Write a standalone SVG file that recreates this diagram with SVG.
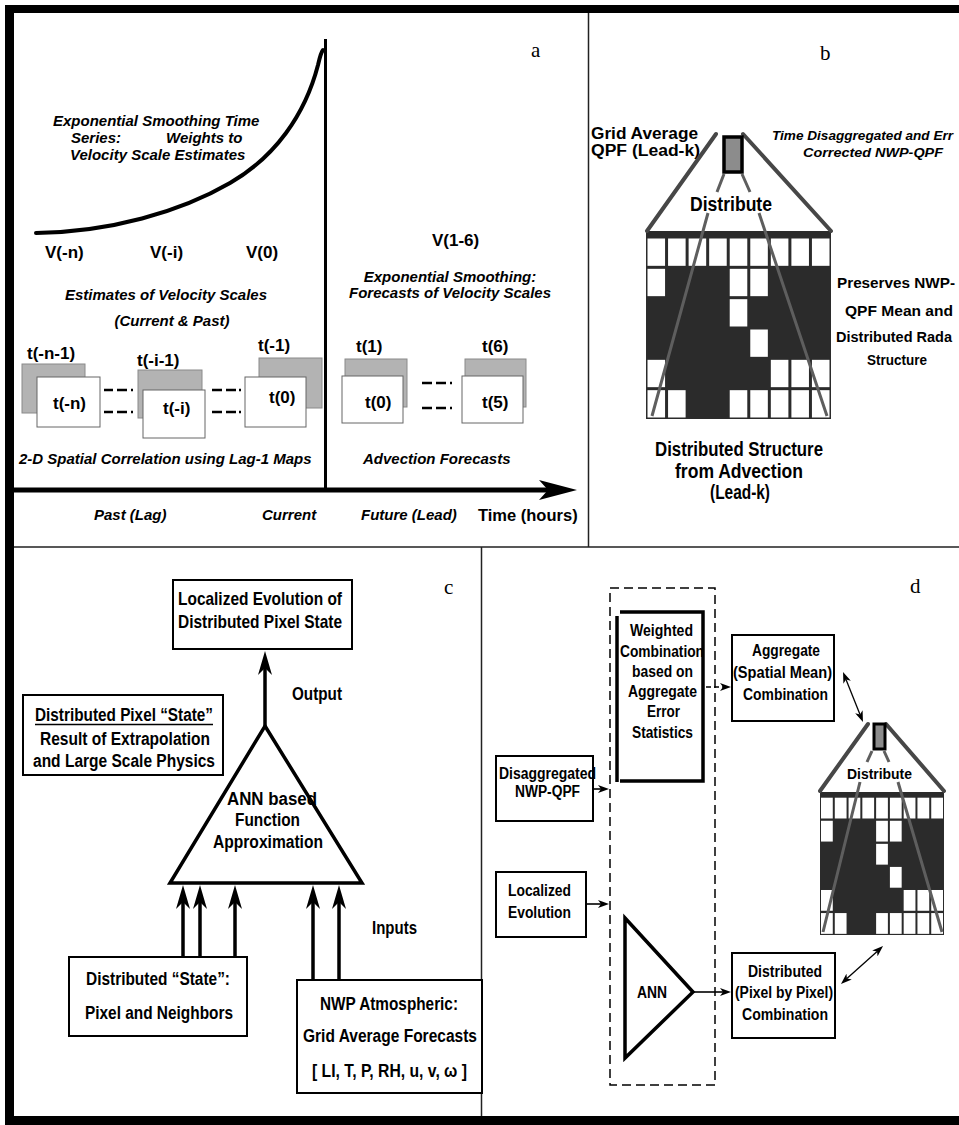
<svg xmlns="http://www.w3.org/2000/svg" width="959" height="1125" viewBox="0 0 959 1125">
<style>
text{font-family:"Liberation Sans",Arial,sans-serif;font-weight:bold;fill:#000}
.it{font-style:italic}
.mid{text-anchor:middle}
.lbl{font-family:"Liberation Serif","Times New Roman",serif;font-weight:normal;font-size:21px}
.a15{font-size:15px}
.t17{font-size:17px}
.n20{font-size:20px}
.n19{font-size:19px}
.n18{font-size:18px}
.n16{font-size:16px}
.n15{font-size:15px}
.n14{font-size:14.5px}
.box{fill:#fff;stroke:#000;stroke-width:2}
.sep{stroke:#222;stroke-width:1.5;fill:none}
.mapg{fill:#b3b3b3;stroke:#8a8a8a;stroke-width:1}
.mapw{fill:#fff;stroke:#666;stroke-width:1}
.dash{stroke:#000;stroke-width:2.5;fill:none}
.pyr{stroke:#474747;stroke-width:4;fill:none;stroke-linecap:round}
.pyri{stroke:#5e5e5e;stroke-width:3;fill:none}
.arr{stroke:#000;stroke-width:3.5;fill:none;marker-end:url(#ahc)}
.arrd{stroke:#000;stroke-width:1.6;fill:none;marker-end:url(#ahd)}
.dbl{stroke:#000;stroke-width:1.3;fill:none;marker-start:url(#ahd2);marker-end:url(#ahd2)}
</style>
<defs>
<marker id="ahc" markerUnits="userSpaceOnUse" markerWidth="24" markerHeight="14" viewBox="0 0 24 14" refX="7" refY="7" orient="auto"><path d="M0,0 L24,7 L0,14 L7,7 z" fill="#000"/></marker>
<marker id="ahd" markerUnits="userSpaceOnUse" markerWidth="11" markerHeight="8" viewBox="0 0 11 8" refX="3" refY="4" orient="auto"><path d="M0,0 L11,4 L0,8 L3,4 z" fill="#000"/></marker>
<marker id="ahd2" markerUnits="userSpaceOnUse" markerWidth="11" markerHeight="8" viewBox="0 0 11 8" refX="3" refY="4" orient="auto-start-reverse"><path d="M0,0 L11,4 L0,8 L3,4 z" fill="#000"/></marker>
<g id="gridb">
<rect x="0" y="0" width="185" height="188" fill="#2b2b2b"/>
<g fill="#fff">
<rect x="1.5" y="7.5" width="17.56" height="27.33"/>
<rect x="22.06" y="7.5" width="17.56" height="27.33"/>
<rect x="42.61" y="7.5" width="17.56" height="27.33"/>
<rect x="63.17" y="7.5" width="17.56" height="27.33"/>
<rect x="83.72" y="7.5" width="17.56" height="27.33"/>
<rect x="104.28" y="7.5" width="17.56" height="27.33"/>
<rect x="124.83" y="7.5" width="17.56" height="27.33"/>
<rect x="145.39" y="7.5" width="17.56" height="27.33"/>
<rect x="165.94" y="7.5" width="17.56" height="27.33"/>
<rect x="1.5" y="37.83" width="17.56" height="27.33"/>
<rect x="83.72" y="37.83" width="17.56" height="27.33"/>
<rect x="104.28" y="37.83" width="17.56" height="27.33"/>
<rect x="83.72" y="68.17" width="17.56" height="27.33"/>
<rect x="104.28" y="98.5" width="17.56" height="27.33"/>
<rect x="1.5" y="128.83" width="17.56" height="27.33"/>
<rect x="124.83" y="128.83" width="17.56" height="27.33"/>
<rect x="145.39" y="128.83" width="17.56" height="27.33"/>
<rect x="165.94" y="128.83" width="17.56" height="27.33"/>
<rect x="1.5" y="159.17" width="17.56" height="27.33"/>
<rect x="22.06" y="159.17" width="17.56" height="27.33"/>
<rect x="83.72" y="159.17" width="17.56" height="27.33"/>
<rect x="104.28" y="159.17" width="17.56" height="27.33"/>
<rect x="124.83" y="159.17" width="17.56" height="27.33"/>
<rect x="145.39" y="159.17" width="17.56" height="27.33"/>
<rect x="165.94" y="159.17" width="17.56" height="27.33"/>
</g>
</g>
</defs>
<rect width="959" height="1125" fill="#fff"/>
<g id="frame">
<rect x="5" y="5" width="954" height="8" fill="#000"/>
<rect x="5" y="5" width="9" height="1120" fill="#000"/>
<rect x="5" y="1116" width="954" height="9" fill="#000"/>
<path class="sep" d="M588.5,13 V547 M14,547 H959 M481.5,547 V1116"/>
</g>

<g id="panel-a">
<text class="lbl" x="531" y="57">a</text>
<path d="M325.5,39 V492" stroke="#000" stroke-width="3" fill="none"/>
<path d="M36,233 C110,232 180,212 230,183 C275,157 305,115 318,65 Q321,52 323,50" stroke="#000" stroke-width="4" fill="none" stroke-linecap="round"/>
<text class="it a15" x="53" y="126">Exponential Smoothing Time</text>
<text class="it a15" x="71" y="143">Series:</text>
<text class="it a15" x="166" y="143">Weights to</text>
<text class="it a15" x="70" y="160">Velocity Scale Estimates</text>
<text class="t17" x="45" y="258">V(-n)</text>
<text class="t17" x="150" y="258">V(-i)</text>
<text class="t17" x="246" y="258">V(0)</text>
<text class="t17" x="432" y="246">V(1-6)</text>
<text class="it a15 mid" x="450" y="282">Exponential Smoothing:</text>
<text class="it a15 mid" x="450" y="298">Forecasts of Velocity Scales</text>
<text class="it a15 mid" x="166" y="300">Estimates of Velocity Scales</text>
<text class="it a15 mid" x="172" y="326">(Current &amp; Past)</text>
<g id="map-n">
<rect class="mapg" x="22" y="364" width="63" height="49"/>
<rect class="mapw" x="37" y="377" width="63" height="50"/>
<text class="t17" x="27" y="359">t(-n-1)</text>
<text class="t17" x="53" y="409">t(-n)</text>
</g>
<g id="map-i">
<rect class="mapg" x="138" y="370" width="64" height="48"/>
<rect class="mapw" x="143" y="390" width="62" height="48"/>
<text class="t17" x="137" y="366">t(-i-1)</text>
<text class="t17" x="163" y="414">t(-i)</text>
</g>
<g id="map-0">
<rect class="mapg" x="259" y="358" width="63" height="50"/>
<rect class="mapw" x="245" y="377" width="61" height="50"/>
<text class="t17" x="258" y="351">t(-1)</text>
<text class="t17" x="269" y="403">t(0)</text>
</g>
<g id="map-1">
<rect class="mapg" x="345" y="359" width="62" height="48"/>
<rect class="mapw" x="342" y="376" width="61" height="47"/>
<text class="t17" x="356" y="352">t(1)</text>
<text class="t17" x="365" y="408">t(0)</text>
</g>
<g id="map-6">
<rect class="mapg" x="465" y="359" width="61" height="48"/>
<rect class="mapw" x="462" y="376" width="61" height="47"/>
<text class="t17" x="482" y="352">t(6)</text>
<text class="t17" x="482" y="408">t(5)</text>
</g>
<path class="dash" d="M104,390 h9 M117,390 h10 M131,390 h2 M104,412 h9 M117,412 h10 M131,412 h2 M212,390 h10 M226,390 h10 M239,390 h2 M212,412 h10 M226,412 h10 M239,412 h2 M422,383 h10 M436,383 h10 M450,383 h2 M422,408 h10 M436,408 h10 M450,408 h2"/>
<text class="it a15" x="19" y="464">2-D Spatial Correlation using Lag-1 Maps</text>
<text class="it a15" x="363" y="464">Advection Forecasts</text>
<path d="M14,490 H550" stroke="#000" stroke-width="5"/>
<path d="M577,490 L539,480 L548,490 L539,500 z" fill="#000"/>
<text class="it a15" x="94" y="520">Past (Lag)</text>
<text class="it a15" x="262" y="520">Current</text>
<text class="it a15" x="361" y="520">Future (Lead)</text>
<text x="478" y="521" font-size="16.5">Time (hours)</text>
</g>

<g id="panel-b">
<text class="lbl" x="820" y="60">b</text>
<text class="n16" x="591" y="139" textLength="107" lengthAdjust="spacingAndGlyphs">Grid Average</text>
<text class="n16" x="591" y="156" textLength="109" lengthAdjust="spacingAndGlyphs">QPF (Lead-k)</text>
<text class="it" x="772" y="140" font-size="13.6">Time Disaggregated and Err</text>
<text class="it" x="803" y="157" font-size="13.6" textLength="140" lengthAdjust="spacingAndGlyphs">Corrected NWP-QPF</text>
<use href="#gridb" transform="translate(646,231)"/>
<path class="pyr" d="M716,134 L647,231 M743,134 L831,231"/>
<rect x="724" y="137" width="18" height="35" fill="#8c8c8c" stroke="#000" stroke-width="3.5"/>
<path class="pyri" d="M724,174 L717,192 M742,174 L750,192 M708,213 L652,416 M759,213 L827,416"/>
<text class="n20" x="690" y="211" textLength="82" lengthAdjust="spacingAndGlyphs">Distribute</text>
<text class="n14" x="837" y="288" textLength="118" lengthAdjust="spacingAndGlyphs">Preserves NWP-</text>
<text class="n14" x="845" y="316" textLength="108" lengthAdjust="spacingAndGlyphs">QPF Mean and</text>
<text class="n14" x="836" y="342">Distributed Rada</text>
<text class="n14" x="867" y="365" textLength="60" lengthAdjust="spacingAndGlyphs">Structure</text>
<text class="n20" x="655" y="456" textLength="168" lengthAdjust="spacingAndGlyphs">Distributed Structure</text>
<text class="n20" x="675" y="478" textLength="128" lengthAdjust="spacingAndGlyphs">from Advection</text>
<text class="n20" x="710" y="499" textLength="60" lengthAdjust="spacingAndGlyphs">(Lead-k)</text>
</g>

<g id="panel-c">
<text class="lbl" x="444" y="594">c</text>
<g id="c-output">
<rect class="box" x="173" y="580" width="179" height="69"/>
<text class="n19" x="178" y="605" textLength="164" lengthAdjust="spacingAndGlyphs">Localized Evolution of</text>
<text class="n19" x="178" y="628" textLength="164" lengthAdjust="spacingAndGlyphs">Distributed Pixel State</text>
</g>
<text class="n18" x="292" y="700" textLength="50" lengthAdjust="spacingAndGlyphs">Output</text>
<g id="c-state-note">
<rect class="box" x="23" y="695" width="200" height="80"/>
<text class="n18" x="35" y="721" textLength="178" lengthAdjust="spacingAndGlyphs">Distributed Pixel “State”</text>
<path d="M35,724.5 H213" stroke="#000" stroke-width="1.3"/>
<text class="n18" x="40" y="745" textLength="170" lengthAdjust="spacingAndGlyphs">Result of Extrapolation</text>
<text class="n18" x="33" y="767" textLength="182" lengthAdjust="spacingAndGlyphs">and Large Scale Physics</text>
</g>
<g id="c-ann">
<path d="M265,726 L362,883 L170,883 z" fill="none" stroke="#000" stroke-width="3.5" stroke-linejoin="miter"/>
<text class="n18" x="227" y="805" textLength="90" lengthAdjust="spacingAndGlyphs">ANN based</text>
<text class="n18" x="235" y="826" textLength="65" lengthAdjust="spacingAndGlyphs">Function</text>
<text class="n18" x="213" y="848" textLength="110" lengthAdjust="spacingAndGlyphs">Approximation</text>
</g>
<text class="n18" x="372" y="934" textLength="45" lengthAdjust="spacingAndGlyphs">Inputs</text>
<g id="c-state-in">
<rect class="box" x="69" y="957" width="178" height="79"/>
<text class="n18" x="86" y="985" textLength="144" lengthAdjust="spacingAndGlyphs">Distributed “State”:</text>
<text class="n18" x="85" y="1019" textLength="148" lengthAdjust="spacingAndGlyphs">Pixel and Neighbors</text>
</g>
<g id="c-nwp-in">
<rect class="box" x="297" y="980" width="185" height="113"/>
<text class="n18" x="320" y="1010" textLength="138" lengthAdjust="spacingAndGlyphs">NWP Atmospheric:</text>
<text class="n18" x="303" y="1042" textLength="174" lengthAdjust="spacingAndGlyphs">Grid Average Forecasts</text>
<text class="n18" x="312" y="1077" textLength="155" lengthAdjust="spacingAndGlyphs">[ LI, T, P, RH, u, v, ω ]</text>
</g>
</g>

<g id="panel-d">
<text class="lbl" x="910" y="593">d</text>
<rect x="610" y="588" width="105" height="497" fill="none" stroke="#000" stroke-width="1.5" stroke-dasharray="9 5"/>
<g id="d-weighted">
<path d="M617,616 V782 M620,612 H703 V781 H620" fill="none" stroke="#000" stroke-width="3.5"/>
<text class="n16" x="630" y="636" textLength="63" lengthAdjust="spacingAndGlyphs">Weighted</text>
<text class="n16" x="620" y="657" textLength="84" lengthAdjust="spacingAndGlyphs">Combination</text>
<text class="n16" x="632" y="677" textLength="61" lengthAdjust="spacingAndGlyphs">based on</text>
<text class="n16" x="628" y="697" textLength="69" lengthAdjust="spacingAndGlyphs">Aggregate</text>
<text class="n16" x="647" y="717" textLength="33" lengthAdjust="spacingAndGlyphs">Error</text>
<text class="n16" x="632" y="738" textLength="61" lengthAdjust="spacingAndGlyphs">Statistics</text>
</g>
<g id="d-aggregate">
<rect class="box" x="732" y="635" width="102" height="86"/>
<text class="n16" x="752" y="656" textLength="68" lengthAdjust="spacingAndGlyphs">Aggregate</text>
<text class="n16" x="733" y="678" textLength="99" lengthAdjust="spacingAndGlyphs">(Spatial Mean)</text>
<text class="n16" x="743" y="700" textLength="85" lengthAdjust="spacingAndGlyphs">Combination</text>
</g>
<g id="d-disagg">
<rect class="box" x="496" y="756" width="97" height="65"/>
<text class="n16" x="499" y="779" textLength="97" lengthAdjust="spacingAndGlyphs">Disaggregated</text>
<text class="n16" x="515" y="797" textLength="65" lengthAdjust="spacingAndGlyphs">NWP-QPF</text>
</g>
<g id="d-localized">
<rect class="box" x="496" y="872" width="90" height="65"/>
<text class="n16" x="508" y="896" textLength="63" lengthAdjust="spacingAndGlyphs">Localized</text>
<text class="n16" x="508" y="918" textLength="63" lengthAdjust="spacingAndGlyphs">Evolution</text>
</g>
<g id="d-ann">
<path d="M625,918 L693,992 L625,1058 z" fill="none" stroke="#000" stroke-width="3.5"/>
<text class="n16" x="637" y="998" textLength="30" lengthAdjust="spacingAndGlyphs">ANN</text>
</g>
<g id="d-distributed">
<rect class="box" x="732" y="953" width="103" height="85"/>
<text class="n16" x="748" y="977" textLength="74" lengthAdjust="spacingAndGlyphs">Distributed</text>
<text class="n16" x="735" y="998" textLength="98" lengthAdjust="spacingAndGlyphs">(Pixel by Pixel)</text>
<text class="n16" x="742" y="1020" textLength="86" lengthAdjust="spacingAndGlyphs">Combination</text>
</g>
<g id="d-grid">
<use href="#gridb" transform="translate(820,792) scale(0.6703,0.7606)"/>
<path class="pyr" d="M868,724 L820,791 M886,724 L944,791" stroke-width="3"/>
<rect x="874" y="724" width="11" height="25" fill="#8c8c8c" stroke="#000" stroke-width="3"/>
<path class="pyri" d="M872,751 L867,762 M884,751 L889,762 M860,782 L823,932 M898,782 L942,932" stroke-width="2.2"/>
<text class="n15" x="847" y="779" textLength="65" lengthAdjust="spacingAndGlyphs">Distribute</text>
</g>
</g>

<g id="connectors">
<path class="arr" d="M265,726 V668"/>
<path class="arr" d="M183,956 V902"/>
<path class="arr" d="M200,956 V902"/>
<path class="arr" d="M235,956 V902"/>
<path class="arr" d="M313,980 V902"/>
<path class="arr" d="M339,980 V902"/>
<path class="arrd" d="M593,789 H601"/>
<path class="arrd" d="M586,904 H601"/>
<path class="arrd" d="M706,687 H723" stroke-dasharray="5 3"/>
<path class="arrd" d="M693,992 H723"/>
<path class="dbl" d="M846,679.4 L860,714.6"/>
<path class="dbl" d="M846.9,978.6 L877.1,951.4"/>
</g>
</svg>
